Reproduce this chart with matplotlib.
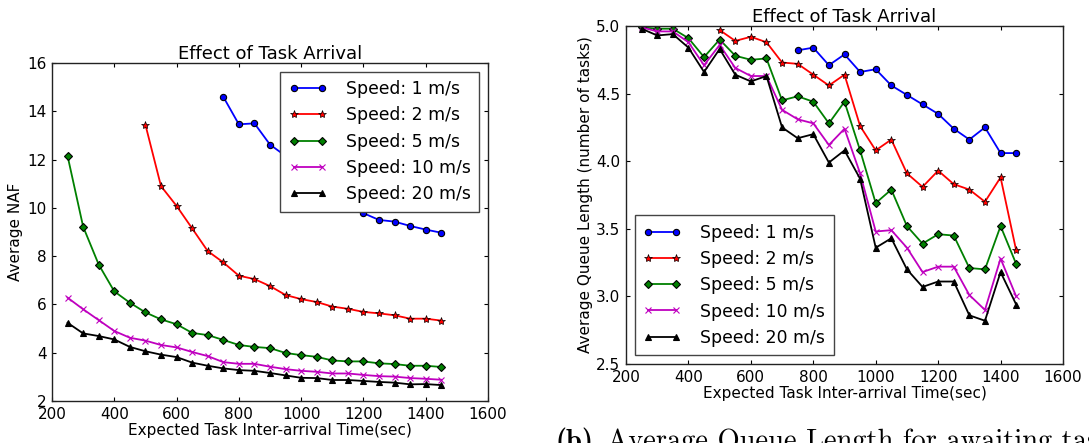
import matplotlib
matplotlib.use("Agg")
import matplotlib.pyplot as plt

# ===== DANE =====
arrival = [250, 300, 350, 400, 450, 500, 550, 600, 650, 700, 750, 800, 850,
           900, 950, 1000, 1050, 1100, 1150, 1200, 1250, 1300, 1350, 1400, 1450]

speed_labels = ["Speed: 1 m/s", "Speed: 2 m/s", "Speed: 5 m/s",
                "Speed: 10 m/s", "Speed: 20 m/s"]

# (a) Average NAF  (speed 1 od 750 s, speed 2 od 500 s)
naf_1 = [14.60, 13.46, 13.50, 12.62, 12.15, 11.55, 11.10, 10.60, 10.20,
         9.78, 9.50, 9.43, 9.25, 9.10, 8.97]
naf_2 = [13.44, 10.90, 10.08, 9.15, 8.21, 7.74, 7.19, 7.05, 6.76, 6.39,
         6.22, 6.10, 5.91, 5.82, 5.69, 5.63, 5.55, 5.41, 5.41, 5.33]
naf_5 = [12.15, 9.22, 7.65, 6.54, 6.07, 5.67, 5.38, 5.18, 4.82, 4.73, 4.53,
         4.32, 4.24, 4.19, 3.99, 3.90, 3.83, 3.68, 3.64, 3.64, 3.56, 3.53,
         3.46, 3.46, 3.41]
naf_10 = [6.28, 5.80, 5.35, 4.90, 4.62, 4.50, 4.32, 4.22, 4.03, 3.86, 3.61,
          3.54, 3.54, 3.42, 3.32, 3.25, 3.21, 3.14, 3.14, 3.08, 3.03, 3.01,
          2.95, 2.92, 2.88]
naf_20 = [5.24, 4.80, 4.69, 4.55, 4.24, 4.06, 3.92, 3.82, 3.59, 3.46, 3.35,
          3.28, 3.25, 3.16, 3.06, 2.96, 2.95, 2.87, 2.87, 2.83, 2.79, 2.76,
          2.69, 2.70, 2.66]

# (b) Average Queue Length
queue_1 = [4.82, 4.84, 4.71, 4.79, 4.66, 4.68, 4.56, 4.49, 4.42, 4.35,
           4.24, 4.16, 4.25, 4.06, 4.06]
queue_2 = [4.97, 4.89, 4.92, 4.88, 4.73, 4.72, 4.64, 4.56, 4.64, 4.26,
           4.08, 4.16, 3.91, 3.81, 3.93, 3.83, 3.79, 3.70, 3.88, 3.34]
queue_5 = [4.99, 4.98, 4.98, 4.91, 4.77, 4.90, 4.78, 4.75, 4.76, 4.45, 4.48,
           4.44, 4.28, 4.44, 4.08, 3.69, 3.79, 3.52, 3.39, 3.46, 3.45, 3.21,
           3.20, 3.52, 3.24]
queue_10 = [4.99, 4.96, 4.96, 4.88, 4.71, 4.86, 4.69, 4.63, 4.63, 4.38, 4.31,
            4.28, 4.12, 4.24, 3.91, 3.48, 3.49, 3.36, 3.18, 3.22, 3.22, 3.01,
            2.90, 3.28, 3.00]
queue_20 = [4.98, 4.93, 4.94, 4.84, 4.66, 4.83, 4.64, 4.59, 4.63, 4.25, 4.17,
            4.20, 3.99, 4.08, 3.87, 3.36, 3.43, 3.20, 3.07, 3.11, 3.11, 2.86,
            2.82, 3.18, 2.94]

naf_ticks = [2, 4, 6, 8, 10, 12, 14, 16]
queue_ticks = [2.5, 3.0, 3.5, 4.0, 4.5, 5.0]
x_ticks = [200, 400, 600, 800, 1000, 1200, 1400, 1600]

# styl serii: kolor, marker, rozmiar
styles = [("b", "o", 4.5), ("r", "*", 6), ("g", "D", 4), ("m", "x", 4.5),
          ("k", "^", 4.5)]


def draw_series(ax, series):
    for (color, marker, ms), label, ys in zip(styles, speed_labels, series):
        xs = arrival[len(arrival) - len(ys):]
        mec = color if marker == "x" else "k"
        mew = 0.5 if marker == "*" else 0.8
        ax.plot(xs, ys, color=color, marker=marker, markersize=ms,
                markeredgecolor=mec, markeredgewidth=mew, linewidth=1.3,
                label=label)


def style_axes(ax):
    ax.tick_params(direction="in", top=True, right=True, length=3,
                   labelsize=11, pad=4)
    for sp in ax.spines.values():
        sp.set_color("#222222")
        sp.set_linewidth(1.0)
    ax.set_xlim(200, 1600)
    ax.set_xticks(x_ticks)
    ax.set_xlabel("Expected Task Inter-arrival Time(sec)", fontsize=11,
                  labelpad=1)
    ax.set_title("Effect of Task Arrival", fontsize=13, pad=3)


def add_legend(ax, loc):
    ax.legend(loc=loc, fontsize=12.4, numpoints=2, fancybox=False,
              framealpha=1, edgecolor="#444444", handlelength=2.2,
              handletextpad=1.1, labelspacing=0.48, borderpad=0.5,
              borderaxespad=0.5)


fig = plt.figure(figsize=(10.89, 4.43), dpi=100)

# ===== (a) =====
ax1 = fig.add_axes([52 / 1089, 42 / 443, 436 / 1089, 338 / 443])
draw_series(ax1, [naf_1, naf_2, naf_5, naf_10, naf_20])
style_axes(ax1)
ax1.set_ylim(2, 16)
ax1.set_yticks(naf_ticks)
ax1.set_ylabel("Average NAF", fontsize=11, labelpad=3)
add_legend(ax1, "upper right")

# ===== (b) =====
ax2 = fig.add_axes([626 / 1089, 79 / 443, 437 / 1089, 338 / 443])
draw_series(ax2, [queue_1, queue_2, queue_5, queue_10, queue_20])
style_axes(ax2)
ax2.set_ylim(2.5, 5.0)
ax2.set_yticks(queue_ticks)
ax2.set_yticklabels([f"{v:.1f}" for v in queue_ticks])
ax2.set_ylabel("Average Queue Length (number of tasks)", fontsize=11,
               labelpad=2)
add_legend(ax2, "lower left")

# podpis (b) – ucięty na krawędziach jak w oryginale
fig.text(556 / 1089, -6 / 443, "(b)", family="cmb10", fontsize=20.5,
         va="baseline", ha="left")
fig.text(607 / 1089, -6 / 443, "Average Queue Length for awaiting tasks",
         family="cmr10", fontsize=20.5, va="baseline", ha="left")

fig.savefig("out.png", dpi=100)
